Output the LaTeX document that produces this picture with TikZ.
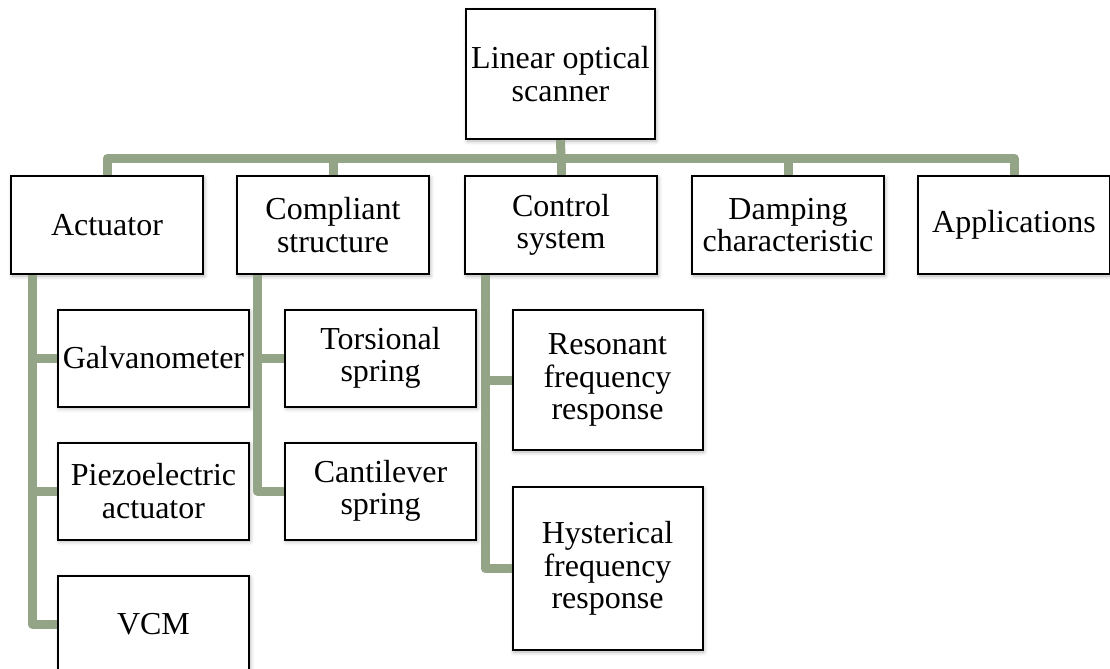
\documentclass[tikz,border=0pt]{standalone}
\usepackage{fontspec}
\setmainfont{Liberation Serif}
\usetikzlibrary{calc,shadows.blur}
\definecolor{LOSBranch}{HTML}{94A486}
\tikzset{
  losbox/.style={draw=black,line width=1.5pt,fill=white,align=center,inner sep=2pt,
    font=\fontsize{24}{24.5}\selectfont,
    blur shadow={shadow xshift=1pt,shadow yshift=-1.5pt,shadow blur radius=3pt,shadow opacity=30}},
  topbox/.style={losbox,minimum width=144pt,minimum height=73.5pt},
  leafbox/.style={losbox,minimum width=143.25pt,minimum height=72.75pt},
  losline/.style={LOSBranch,line width=6.75pt,line join=round},
}
\begin{document}
\begin{tikzpicture}[x=0.75pt,y=-0.75pt]
\path[use as bounding box] (0,0) rectangle (1110,668);
% root and first level
\node[losbox,minimum width=141.75pt,minimum height=97.5pt] (root) at (560.5,74) {Linear optical\\scanner};
\node[topbox] (act) at (107,225) {Actuator};
\node[topbox] (comp) at (333,225) {Compliant\\structure};
\node[topbox] (ctrl) at (561,225) {Control\\system};
\node[topbox] (damp) at (788,225) {Damping\\characteristic};
\node[topbox] (appl) at (1014,225) {Applications};
\coordinate (bus) at (561,158);
\draw[losline] (root.south) -- (bus);
\foreach \n in {act,comp,ctrl,damp,appl}
  \draw[losline] (\n.north) |- (bus);
% actuator branch
\node[leafbox] (galv) at (153.5,358) {Galvanometer};
\node[leafbox] (piezo) at (153.5,491) {Piezoelectric\\actuator};
\node[leafbox] (vcm) at (153.5,624) {VCM};
\foreach \n in {galv,piezo,vcm}
  \draw[losline] ($(act.south west)+(22,0)$) |- (\n.west);
% compliant structure branch
\node[leafbox] (tors) at (380.5,358) {Torsional\\spring};
\node[leafbox] (cant) at (380.5,491) {Cantilever\\spring};
\foreach \n in {tors,cant}
  \draw[losline] ($(comp.south west)+(21,0)$) |- (\n.west);
% control system branch
\node[losbox,minimum width=142.5pt,minimum height=105pt] (reso) at (607.5,380) {Resonant\\frequency\\response};
\node[losbox,minimum width=142.5pt,minimum height=122.25pt] (hyst) at (607.5,568.5) {Hysterical\\frequency\\response};
\foreach \n in {reso,hyst}
  \draw[losline] ($(ctrl.south west)+(21,0)$) |- (\n.west);
\end{tikzpicture}
\end{document}
